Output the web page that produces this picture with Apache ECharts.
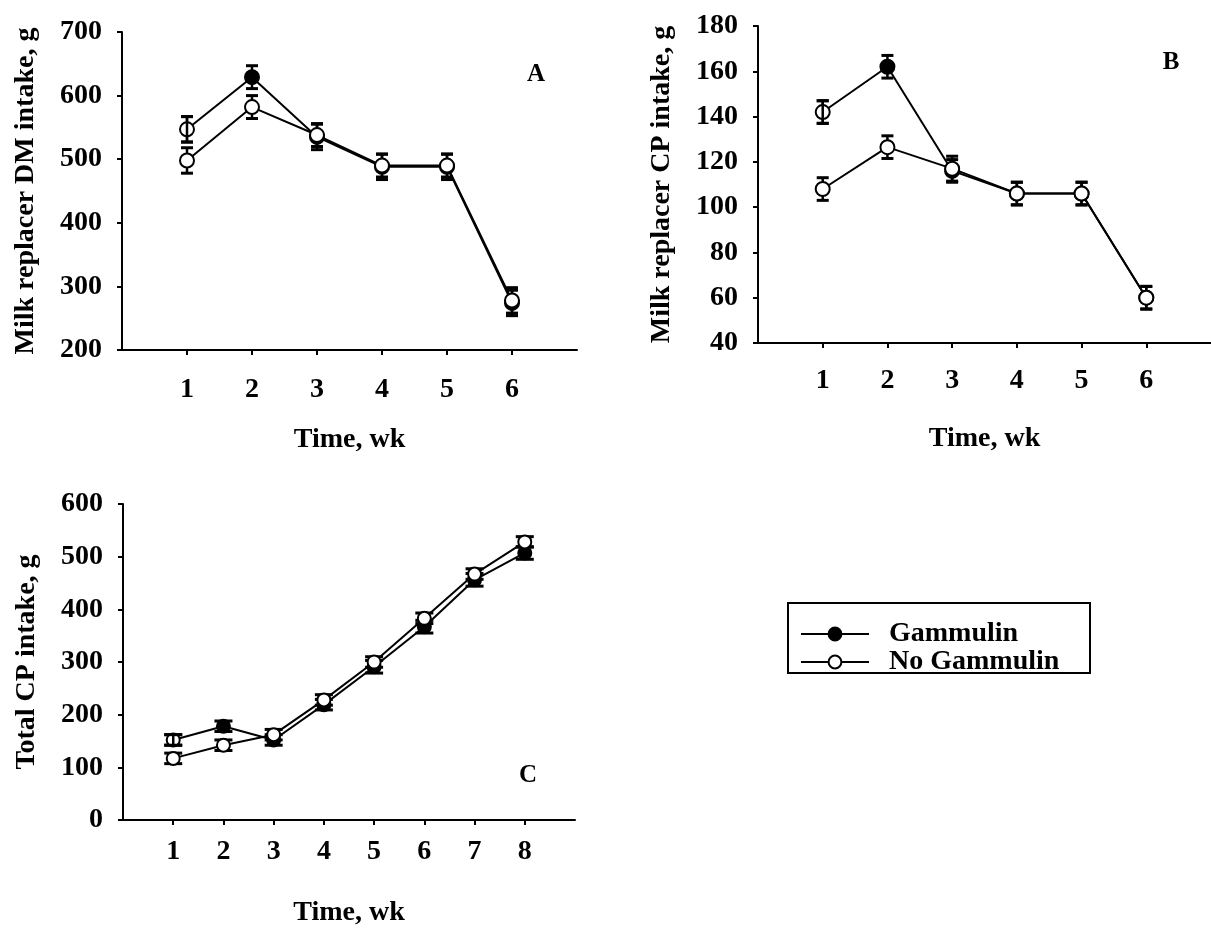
<!DOCTYPE html>
<html>
<head>
<meta charset="utf-8">
<script src="https://cdn.jsdelivr.net/npm/echarts@6/dist/echarts.min.js"></script>
<style>
html,body{margin:0;padding:0;background:#fff;}
#chart{width:1211px;height:928px;}
</style>
</head>
<body>
<div id="chart"></div>
<script>
// ---- Data ----
const weeksAB = [1, 2, 3, 4, 5, 6];
const weeksC = [1, 2, 3, 4, 5, 6, 7, 8];

// Panel A: Milk replacer DM intake, g
const gamA = [547, 629, 535, 488, 488, 274];
const gamAErr = [20, 18, 20, 20, 20, 20];
const noA = [498, 582, 538, 490, 490, 278];
const noAErr = [20, 18, 18, 18, 18, 20];

// Panel B: Milk replacer CP intake, g
const gamB = [142, 162, 116, 106, 106, 60];
const gamBErr = [5, 5, 5, 5, 5, 5];
const noB = [108, 126.5, 117, 106, 106, 60];
const noBErr = [5, 5, 5.5, 5, 5, 5];

// Panel C: Total CP intake, g
const gamC = [152, 178, 152, 219, 291, 367, 456, 507];
const gamCErr = [10, 10, 10, 10, 12, 12, 12, 12];
const noC = [117, 142, 162, 228, 300, 383, 467, 528];
const noCErr = [10, 10, 10, 10, 10, 10, 10, 10];

const ticksAB = [1, 2, 3, 4, 5, 6];
const ticksC = [1, 2, 3, 4, 5, 6, 7, 8];

const seriesNames = ['Gammulin', 'No Gammulin'];

// ---- Helpers ----
const FONT = '"Liberation Serif", "Times New Roman", serif';
const pairs = (xs, ys) => xs.map((x, i) => [x, ys[i]]);
const triples = (xs, ys, es) => xs.map((x, i) => [x, ys[i], es[i]]);

function errRender(capHalf) {
  return function (params, api) {
    const x = api.value(0), y = api.value(1), e = api.value(2);
    const t = api.coord([x, y + e]);
    const b = api.coord([x, y - e]);
    const st = { stroke: '#000', lineWidth: 2.5 };
    return {
      type: 'group',
      children: [
        { type: 'line', shape: { x1: t[0], y1: t[1], x2: b[0], y2: b[1] }, style: st },
        { type: 'line', shape: { x1: t[0] - capHalf, y1: t[1], x2: t[0] + capHalf, y2: t[1] }, style: { stroke: '#000', lineWidth: 3 } },
        { type: 'line', shape: { x1: b[0] - capHalf, y1: b[1], x2: b[0] + capHalf, y2: b[1] }, style: { stroke: '#000', lineWidth: 3 } }
      ]
    };
  };
}

function panelSeries(idx, xs, gam, gamErr, no, noErr, capHalf, symSize) {
  const out = [];
  out.push({
    type: 'custom', xAxisIndex: idx, yAxisIndex: idx, z: 1, silent: true,
    renderItem: errRender(capHalf), encode: { x: 0, y: 1 },
    data: triples(xs, gam, gamErr)
  });
  out.push({
    type: 'custom', xAxisIndex: idx, yAxisIndex: idx, z: 1, silent: true,
    renderItem: errRender(capHalf), encode: { x: 0, y: 1 },
    data: triples(xs, no, noErr)
  });
  const gData = pairs(xs, gam).map((p, i) => i === 0 ? { value: p, itemStyle: { color: '#fff' } } : p);
  out.push({
    name: seriesNames[0], type: 'line', xAxisIndex: idx, yAxisIndex: idx, z: 2,
    symbol: 'circle', symbolSize: symSize,
    itemStyle: { color: '#000', borderColor: '#000', borderWidth: 2 },
    lineStyle: { color: '#000', width: 2 },
    data: gData
  });
  out.push({
    name: seriesNames[1], type: 'line', xAxisIndex: idx, yAxisIndex: idx, z: 3,
    symbol: 'circle', symbolSize: symSize,
    itemStyle: { color: '#fff', borderColor: '#000', borderWidth: 2 },
    lineStyle: { color: '#000', width: 2 },
    data: pairs(xs, no)
  });
  // error bar visible through first Gammulin marker
  out.push({
    type: 'custom', xAxisIndex: idx, yAxisIndex: idx, z: 5, silent: true,
    renderItem: errRender(capHalf), encode: { x: 0, y: 1 },
    data: [[xs[0], gam[0], gamErr[0]]]
  });
  return out;
}

const axisLineStyle = { show: true, lineStyle: { color: '#000', width: 2 } };
const tickStyle = { show: true, length: 5, lineStyle: { color: '#000', width: 2 } };
const labelStyle = { color: '#000', fontFamily: FONT, fontWeight: 'bold', fontSize: 28 };
const nameStyle = { color: '#000', fontFamily: FONT, fontWeight: 'bold', fontSize: 28 };

function xAx(grid, max, ticks, margin, gap) {
  return {
    type: 'value', gridIndex: grid, min: 0, max: max, interval: 1,
    axisLine: axisLineStyle,
    axisTick: Object.assign({ customValues: ticks }, tickStyle),
    axisLabel: Object.assign({ customValues: ticks, margin: margin }, labelStyle),
    splitLine: { show: false },
    name: 'Time, wk', nameLocation: 'middle', nameGap: gap, nameTextStyle: nameStyle
  };
}
function yAx(grid, min, max, interval, name) {
  return {
    type: 'value', gridIndex: grid, min: min, max: max, interval: interval,
    axisLine: axisLineStyle,
    axisTick: tickStyle,
    axisLabel: Object.assign({ margin: 20 }, labelStyle),
    splitLine: { show: false },
    name: name, nameLocation: 'middle', nameRotate: 90, nameGap: 82, nameTextStyle: nameStyle
  };
}

const chart = echarts.init(document.getElementById('chart'), null, { renderer: 'canvas' });
const option = {
  backgroundColor: '#fff',
  animation: false,
  grid: [
    { left: 122, top: 32, width: 455, height: 318 },
    { left: 758, top: 26, width: 453, height: 317 },
    { left: 123, top: 504, width: 452, height: 317 }
  ],
  xAxis: [xAx(0, 7, ticksAB, 26, 76), xAx(1, 7, ticksAB, 24, 82), xAx(2, 9, ticksC, 18, 79)],
  yAxis: [
    yAx(0, 200, 700, 100, 'Milk replacer DM intake, g'),
    yAx(1, 40, 180, 20, 'Milk replacer CP intake, g'),
    yAx(2, 0, 600, 100, 'Total CP intake, g')
  ],
  legend: {
    data: seriesNames, orient: 'vertical', left: 800, top: 620,
    itemWidth: 68, itemHeight: 16, itemGap: 0, selectedMode: false,
    padding: 0,
    lineStyle: { width: 2 },
    textStyle: { color: '#000', fontFamily: FONT, fontWeight: 'bold', fontSize: 28, lineHeight: 26, padding: [0, 0, 0, 15] }
  },
  graphic: [
    { type: 'rect', shape: { x: 788, y: 603, width: 302, height: 70 }, style: { fill: 'none', stroke: '#000', lineWidth: 2 } },
    { type: 'text', x: 536, y: 75, style: { text: 'A', font: 'bold 25px ' + FONT, fill: '#000', align: 'center', verticalAlign: 'middle' } },
    { type: 'text', x: 1171, y: 63, style: { text: 'B', font: 'bold 25px ' + FONT, fill: '#000', align: 'center', verticalAlign: 'middle' } },
    { type: 'text', x: 528, y: 776, style: { text: 'C', font: 'bold 25px ' + FONT, fill: '#000', align: 'center', verticalAlign: 'middle' } }
  ],
  series: [].concat(
    panelSeries(0, weeksAB, gamA, gamAErr, noA, noAErr, 6, 14),
    panelSeries(1, weeksAB, gamB, gamBErr, noB, noBErr, 6, 14),
    panelSeries(2, weeksC, gamC, gamCErr, noC, noCErr, 9, 13)
  )
};
chart.setOption(option);
</script>
</body>
</html>
